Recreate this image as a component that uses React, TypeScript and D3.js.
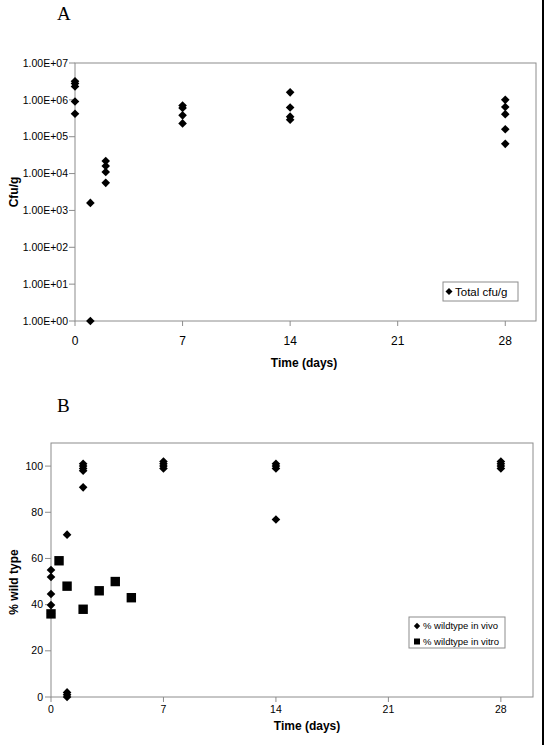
import React from "react";
import * as d3 from "d3";

// Panel A: total cfu/g by day
const cfuDays = [0, 0, 0, 0, 0, 1, 1, 2, 2, 2, 2, 7, 7, 7, 7, 14, 14, 14, 14, 28, 28, 28, 28, 28];
const cfuValues = [3.2e6, 2.8e6, 2.3e6, 9e5, 4.2e5, 1.6e3, 1, 2.2e4, 1.6e4, 1.1e4, 5.6e3, 7e5, 6e5, 3.8e5, 2.3e5, 1.6e6, 6.2e5, 3.5e5, 2.9e5, 1.0e6, 6.4e5, 4.1e5, 1.6e5, 6.4e4];
const logTicks = [1, 10, 100, 1e3, 1e4, 1e5, 1e6, 1e7];
const logTickLabels = ["1.00E+00", "1.00E+01", "1.00E+02", "1.00E+03", "1.00E+04", "1.00E+05", "1.00E+06", "1.00E+07"];
const dayTicks = [0, 7, 14, 21, 28];

// Panel B: % wild type
const vivoDays = [0, 0, 0, 0, 0, 1, 1, 1, 1, 2, 2, 2, 2, 2, 7, 7, 7, 7, 14, 14, 14, 14, 28, 28, 28, 28];
const vivoValues = [55, 52, 44.6, 39.8, 36, 70.3, 0, 1, 2, 101, 100, 99, 98, 90.8, 102, 101, 100, 99, 101, 100, 99, 76.9, 102, 101, 100, 99];
const vitroDays = [0, 0.5, 1, 2, 3, 4, 5];
const vitroValues = [36, 59, 48, 38, 46, 50, 43];
const pctTicks = [0, 20, 40, 60, 80, 100];

const AXIS = "#8c8c8c";
const SANS = "'Liberation Sans', Arial, sans-serif";

function diamond(x: number, y: number, r: number) {
  const p = d3.path();
  p.moveTo(x, y - r);
  p.lineTo(x + r, y);
  p.lineTo(x, y + r);
  p.lineTo(x - r, y);
  p.closePath();
  return p.toString();
}

export default function App() {
  // Panel A scales
  const xA = d3.scaleLinear().domain([0, 30]).range([75, 536]);
  const yA = d3.scaleLog().domain([1, 1e7]).range([321, 63]);
  // Panel B scales
  const xB = d3.scaleLinear().domain([0, 30]).range([51, 533]);
  const yB = d3.scaleLinear().domain([0, 110]).range([697, 443]);

  return (
    <svg
      width={547}
      height={745}
      style={{ position: "absolute", left: 0, top: 0, background: "#fff" }}
      fontFamily={SANS}
    >
      <rect x={0} y={0} width={547} height={745} fill="#fff" />
      <line x1={543} x2={543} y1={0} y2={745} stroke="#000" strokeWidth={2} />

      {/* Panel A */}
      <text x={57} y={20} fontFamily="'Liberation Serif', 'Times New Roman', serif" fontSize={19}>A</text>
      <rect x={75} y={63} width={461} height={258} fill="none" stroke={AXIS} strokeWidth={1} />
      {logTicks.map((t, i) => (
        <g key={"ya" + i}>
          <line x1={69} x2={75} y1={yA(t)} y2={yA(t)} stroke={AXIS} />
          <text x={68} y={yA(t)} dy="0.35em" textAnchor="end" fontSize={10.5}>{logTickLabels[i]}</text>
        </g>
      ))}
      {dayTicks.map((t) => (
        <g key={"xa" + t}>
          <line x1={xA(t)} x2={xA(t)} y1={321} y2={326} stroke={AXIS} />
          <text x={xA(t)} y={345} textAnchor="middle" fontSize={12}>{t}</text>
        </g>
      ))}
      <text x={304} y={367} textAnchor="middle" fontSize={12} fontWeight="bold">Time (days)</text>
      <text transform="translate(18,192) rotate(-90)" textAnchor="middle" fontSize={12} fontWeight="bold">Cfu/g</text>
      {cfuValues.map((v, i) => (
        <path key={"a" + i} d={diamond(xA(cfuDays[i]), yA(v), 4.3)} fill="#000" />
      ))}
      <rect x={443} y={282} width={75} height={19} fill="#fff" stroke={AXIS} />
      <path d={diamond(449, 291.5, 3.5)} fill="#000" />
      <text x={455} y={291.5} dy="0.35em" fontSize={11.5}>Total cfu/g</text>

      {/* Panel B */}
      <text x={57} y={412} fontFamily="'Liberation Serif', 'Times New Roman', serif" fontSize={19}>B</text>
      <rect x={51} y={443} width={482} height={254} fill="none" stroke={AXIS} strokeWidth={1} />
      {pctTicks.map((t) => (
        <g key={"yb" + t}>
          <line x1={45} x2={51} y1={yB(t)} y2={yB(t)} stroke={AXIS} />
          <text x={43} y={yB(t)} dy="0.35em" textAnchor="end" fontSize={10.5}>{t}</text>
        </g>
      ))}
      {dayTicks.map((t) => (
        <g key={"xb" + t}>
          <line x1={xB(t)} x2={xB(t)} y1={697} y2={702} stroke={AXIS} />
          <text x={xB(t)} y={713} textAnchor="middle" fontSize={10.5}>{t}</text>
        </g>
      ))}
      <text x={307} y={730} textAnchor="middle" fontSize={12} fontWeight="bold">Time (days)</text>
      <text transform="translate(18,582) rotate(-90)" textAnchor="middle" fontSize={12} fontWeight="bold">% wild type</text>
      {vivoValues.map((v, i) => (
        <path key={"bv" + i} d={diamond(xB(vivoDays[i]), yB(v), 4.3)} fill="#000" />
      ))}
      {vitroValues.map((v, i) => (
        <rect key={"bt" + i} x={xB(vitroDays[i]) - 4.7} y={yB(v) - 4.7} width={9.4} height={9.4} fill="#000" />
      ))}
      <rect x={409} y={617} width={96} height={31} fill="#fff" stroke={AXIS} />
      <path d={diamond(417, 626, 3.2)} fill="#000" />
      <text x={423} y={626} dy="0.35em" fontSize={9.5}>% wildtype in vivo</text>
      <rect x={414} y={638.5} width={6} height={6} fill="#000" />
      <text x={423} y={641.5} dy="0.35em" fontSize={9.5}>% wildtype in vitro</text>
    </svg>
  );
}
